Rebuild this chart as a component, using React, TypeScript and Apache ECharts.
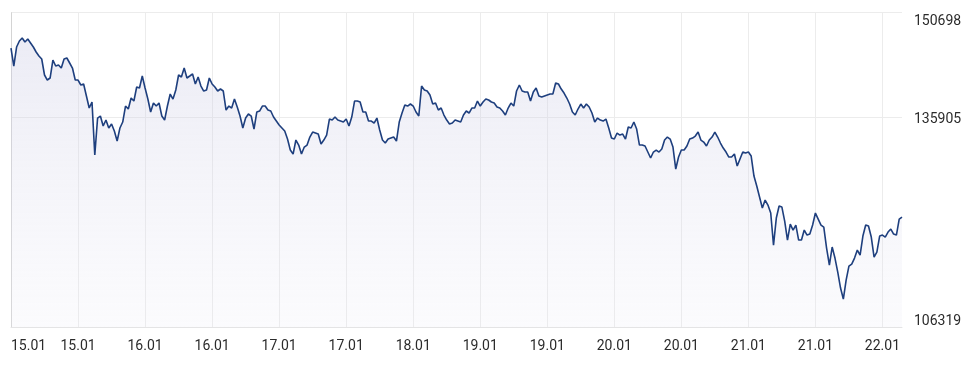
import React, { useEffect, useRef } from "react";
import * as echarts from "echarts";

// Axis tick labels (one label every 24 points)
const tickLabels = ["15.01", "15.01", "16.01", "16.01", "17.01", "17.01", "18.01", "19.01", "19.01", "20.01", "20.01", "21.01", "21.01", "22.01"];
const pointsPerTick = 24;

// Y axis range shown by the chart
const axisMin = 106319;
const axisMid = 135905;
const axisMax = 150698;

// Index values, segment by segment
const seg0 = [145717,143177,145858,146705,147128,146564,146987,146423,145858,145153,144588,144165,141908,141202,141484,144024,143177,143319,142895,144165,144306,143601,142895,141202];
const seg1 = [141202,140497,140638,138944,137251,138098,130620,135840,136122,134711,135558,134429,134994,134006,132595,134429,135276,137533,137110,138662,138239,140214,140073,141766];
const seg2 = [140073,138521,136687,137957,137533,137957,136122,135558,137533,139227,138521,139791,141908,141625,142895,141484,141766,142049,140638,141625,140355,139650,139791,141484];
const seg3 = [140638,140214,139650,139932,139650,136969,137533,137251,138521,137392,136122,134429,135840,136405,136122,134288,136687,136828,137533,137533,136969,136828,135981,135417];
const seg4 = [134853,134429,134006,132877,131325,130761,132736,132031,130761,131748,132031,133159,133865,133724,133583,132172,132736,133442,135699,135558,135981,135558,135417,135276];
const seg5 = [135699,134711,135981,138239,138239,138098,136687,136687,135417,135417,135135,135840,134147,132736,132313,132877,133018,133159,132595,135276,136546,137675,137533,137816];
const seg6 = [137533,136687,136122,140355,139791,139650,139086,137816,137957,136969,137251,136264,135558,134994,135135,135558,135417,135276,136264,136828,136546,137251,137251,138239];
const seg7 = [137533,138098,138521,138380,138098,137957,137392,137251,136828,136264,137251,137957,137533,139650,140497,139650,139509,139509,138239,139509,140073,138944,138803,138944];
const seg8 = [139086,139227,139227,140779,140638,139932,139368,138662,137816,136687,136264,137110,137816,137251,137816,137392,136546,135276,135840,135558,135417,135699,134429,133018];
const seg9 = [132877,133724,133442,133583,132877,134570,134429,135276,134288,132031,132031,131889,131043,130196,131043,131325,131043,131466,132736,133159,132877,131748,128644,130337];
const seg10 = [131325,131325,131889,132877,133018,133300,133865,132736,132454,131889,132736,133159,133865,133159,132313,131607,131043,130337,130337,130761,129067,130055,131043,130902];
const seg11 = [131043,130478,127656,126245,124693,123141,124270,123564,122436,117920,121730,123423,123282,121307,118626,120884,120037,120742,118626,118626,120037,119331,119473,120742];
const seg12 = [122436,121589,120742,120460,117497,115098,117638,116086,114111,111853,110301,112982,114957,115240,116086,117215,116509,119190,120742,120601,119049,116227,116933,119190];
const seg13 = [119331,119049,119755,120178,119473,119331,121589,121871];

const values = [...seg0, ...seg1, ...seg2, ...seg3, ...seg4, ...seg5, ...seg6, ...seg7, ...seg8, ...seg9, ...seg10, ...seg11, ...seg12, ...seg13];
const categories = values.map((_, i) => tickLabels[Math.min(tickLabels.length - 1, Math.floor(i / pointsPerTick))]);

export default function App() {
  const ref = useRef<HTMLDivElement>(null);
  useEffect(() => {
    if (!ref.current) return;
    const chart = echarts.init(ref.current, null, { renderer: "svg" });
    const span = axisMax - axisMin;
    const step = axisMid - axisMin;
    const onTick = (index: number) => index % pointsPerTick === 0;
    chart.setOption({
      animation: false,
      textStyle: { fontFamily: "Roboto, sans-serif" },
      grid: { left: 11, right: 66, top: 12.7, bottom: 37.7, containLabel: false, outerBoundsMode: "none" },
      xAxis: {
        type: "category",
        boundaryGap: false,
        data: categories,
        axisTick: { show: false, interval: onTick },
        axisLine: { show: true, lineStyle: { color: "#e4e4e4", width: 1 } },
        axisLabel: {
          interval: onTick,
          color: "#2b2b2b",
          fontSize: 14,
          fontFamily: "Roboto, sans-serif",
          margin: 11,
          alignMinLabel: "left",
          formatter: (value: string, index: number) => (onTick(index) ? value : ""),
        },
        splitLine: { show: true, interval: onTick, lineStyle: { color: "#ececec", width: 1 } },
      },
      yAxis: [
        {
          type: "value",
          position: "right",
          min: 0,
          max: span,
          interval: step,
          axisLine: { show: false },
          axisTick: { show: false },
          splitLine: { show: true, lineStyle: { color: "#ececec", width: 1 } },
          axisLabel: {
            color: "#2b2b2b",
            fontSize: 14,
            fontFamily: "Roboto, sans-serif",
            margin: 12,
            verticalAlignMaxLabel: "top",
            verticalAlignMinLabel: "bottom",
            formatter: (v: number) => String(Math.round(v + axisMin)),
          },
        },
        {
          type: "value",
          position: "left",
          min: 0,
          max: span,
          axisLine: { show: true, lineStyle: { color: "#d4d4d4", width: 1 } },
          axisTick: { show: false },
          axisLabel: { show: false },
          splitLine: { show: false },
        },
      ],
      series: [
        {
          type: "line",
          data: values.map((v) => v - axisMin),
          showSymbol: false,
          silent: true,
          lineStyle: { color: "#1e3f7e", width: 1.6 },
          areaStyle: {
            color: new echarts.graphic.LinearGradient(0, 0, 0, 1, [
              { offset: 0, color: "rgba(200,200,226,0.5)" },
              { offset: 1, color: "rgba(232,232,244,0.25)" },
            ]),
          },
        },
      ],
    });
    return () => chart.dispose();
  }, []);
  return <div ref={ref} style={{ position: "fixed", left: 0, top: 0, width: 968, height: 365 }} />;
}
